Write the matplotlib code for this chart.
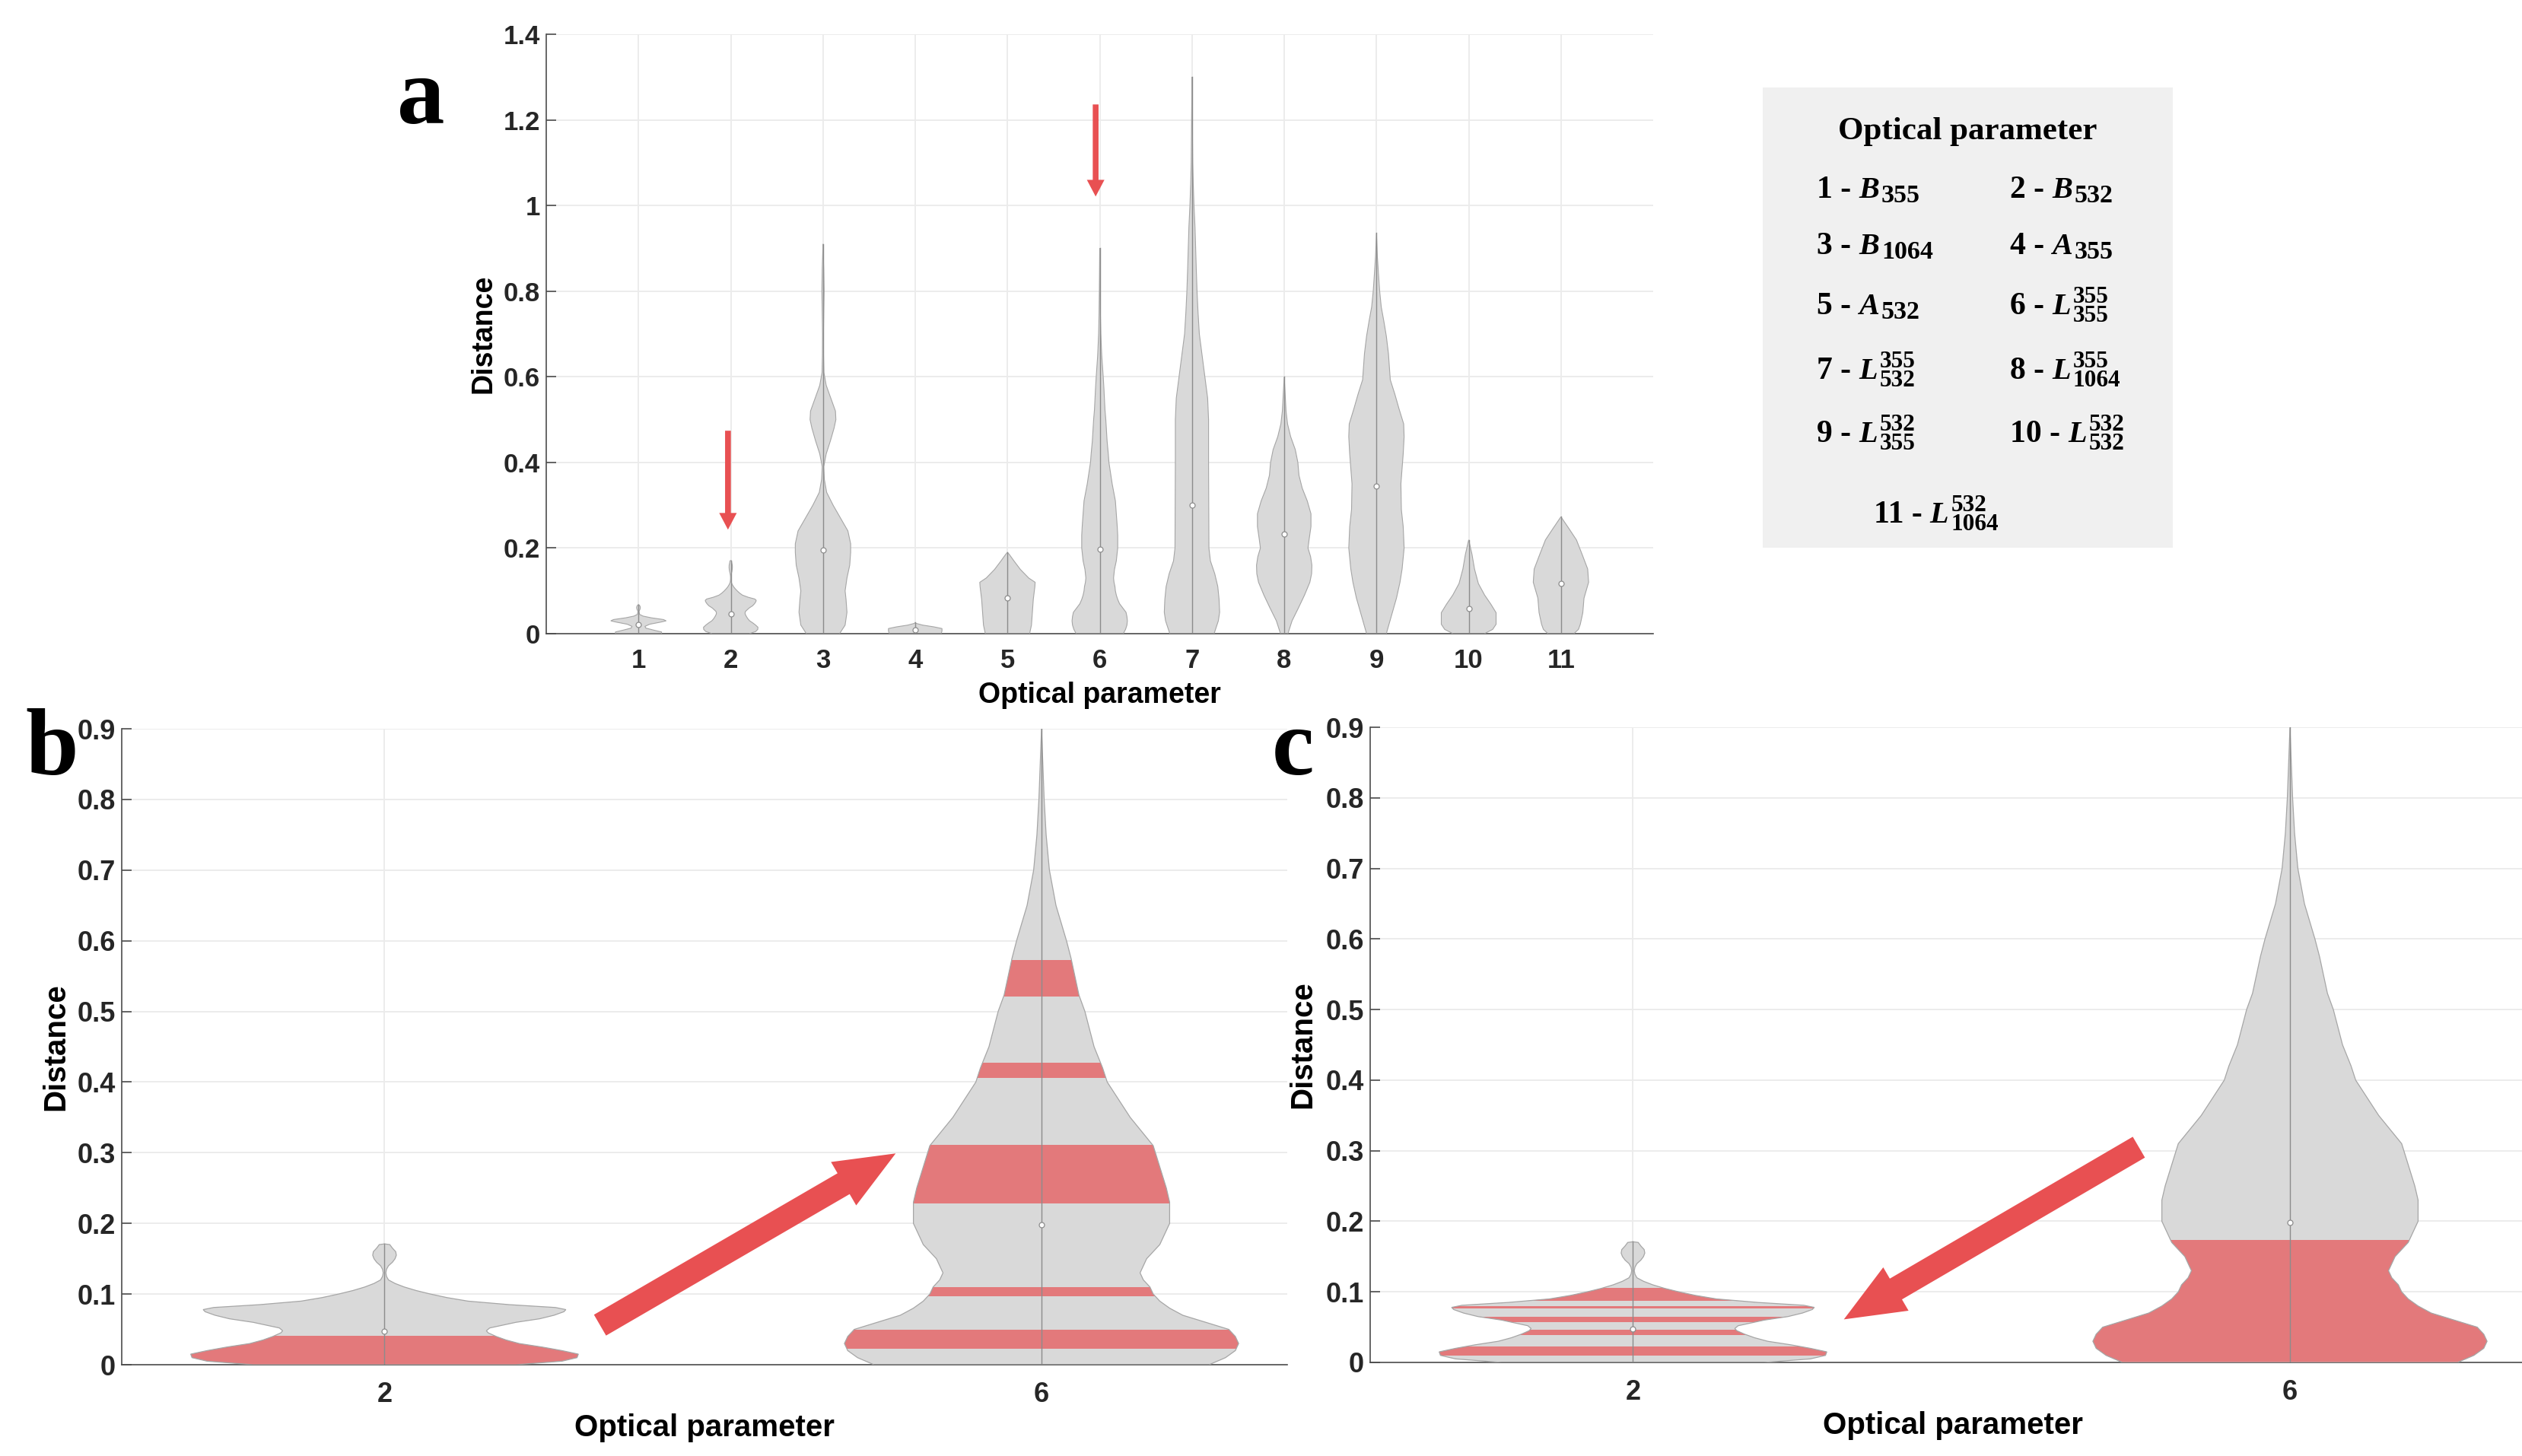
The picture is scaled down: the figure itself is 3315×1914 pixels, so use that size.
import numpy as np
import matplotlib
matplotlib.use("Agg")
import matplotlib.pyplot as plt
from matplotlib.patches import Polygon, Rectangle

plt.rcParams['font.family'] = ['Liberation Sans', 'DejaVu Sans']

# ---------------- data ----------------
categories = ['1', '2', '3', '4', '5', '6', '7', '8', '9', '10', '11']

# violin outlines: distance levels and half-widths (normalised, max 0.3)
v1_y = [0, 0.004, 0.008, 0.013, 0.017, 0.022, 0.027, 0.030, 0.033, 0.037, 0.041, 0.045, 0.052, 0.058, 0.062, 0.066, 0.068]
v1_w = [0.25, 0.25, 0.17, 0.08, 0.07, 0.12, 0.24, 0.30, 0.27, 0.14, 0.05, 0.012, 0.006, 0.018, 0.02, 0.012, 0]
v2_y = [0, 0.005, 0.010, 0.015, 0.020, 0.025, 0.030, 0.035, 0.040, 0.045, 0.048, 0.052, 0.056, 0.060, 0.065,
        0.070, 0.075, 0.078, 0.081, 0.085, 0.090, 0.095, 0.100, 0.105, 0.110, 0.115, 0.120, 0.125, 0.130,
        0.135, 0.140, 0.145, 0.150, 0.155, 0.160, 0.165, 0.170, 0.171]
v2_w = [0.20, 0.27, 0.293, 0.295, 0.27, 0.24, 0.205, 0.185, 0.17, 0.158, 0.155, 0.16, 0.18, 0.20, 0.236,
        0.258, 0.273, 0.276, 0.26, 0.19, 0.127, 0.095, 0.07, 0.048, 0.03, 0.016, 0.006, 0.003, 0.002,
        0.003, 0.006, 0.012, 0.016, 0.018, 0.017, 0.012, 0.008, 0]
v3_y = [0, 0.02, 0.05, 0.08, 0.10, 0.13, 0.16, 0.19, 0.21, 0.24, 0.27, 0.30, 0.33, 0.36, 0.39, 0.42, 0.45,
        0.48, 0.50, 0.52, 0.55, 0.58, 0.61, 0.65, 0.70, 0.75, 0.80, 0.85, 0.88, 0.91]
v3_w = [0.18, 0.24, 0.26, 0.25, 0.24, 0.26, 0.29, 0.30, 0.30, 0.27, 0.19, 0.11, 0.04, 0.015, 0.008, 0.035,
        0.08, 0.12, 0.14, 0.135, 0.085, 0.035, 0.01, 0.006, 0.005, 0.008, 0.012, 0.008, 0.004, 0]
v4_y = [0, 0.006, 0.012, 0.016, 0.020, 0.024, 0.026]
v4_w = [0.28, 0.29, 0.29, 0.20, 0.08, 0.01, 0]
v5_y = [0, 0.02, 0.05, 0.08, 0.11, 0.12, 0.13, 0.15, 0.17, 0.185, 0.19]
v5_w = [0.24, 0.26, 0.27, 0.28, 0.297, 0.30, 0.23, 0.14, 0.07, 0.02, 0]
v6_y = [0, 0.01, 0.02, 0.03, 0.04, 0.05, 0.06, 0.07, 0.08, 0.09, 0.10, 0.11, 0.12, 0.13, 0.15, 0.17, 0.20,
        0.23, 0.25, 0.28, 0.31, 0.35, 0.40, 0.42, 0.45, 0.50, 0.523, 0.575, 0.60, 0.65, 0.70, 0.75, 0.80,
        0.85, 0.90]
v6_w = [0.255, 0.28, 0.295, 0.30, 0.295, 0.285, 0.25, 0.215, 0.195, 0.18, 0.17, 0.165, 0.155, 0.15, 0.16,
        0.18, 0.195, 0.195, 0.19, 0.18, 0.17, 0.135, 0.10, 0.093, 0.08, 0.066, 0.057, 0.045, 0.038, 0.022,
        0.012, 0.007, 0.004, 0.002, 0]
v7_y = [0, 0.03, 0.05, 0.08, 0.11, 0.14, 0.17, 0.20, 0.30, 0.40, 0.50, 0.55, 0.60, 0.65, 0.70, 0.75, 0.80,
        0.85, 0.90, 0.95, 1.00, 1.05, 1.10, 1.20, 1.30]
v7_w = [0.24, 0.286, 0.30, 0.294, 0.28, 0.247, 0.20, 0.184, 0.182, 0.18, 0.18, 0.17, 0.14, 0.11, 0.08, 0.066,
        0.055, 0.047, 0.04, 0.033, 0.022, 0.014, 0.008, 0.004, 0]
v8_y = [0, 0.03, 0.06, 0.09, 0.12, 0.14, 0.16, 0.18, 0.20, 0.22, 0.25, 0.28, 0.31, 0.34, 0.37, 0.40, 0.43,
        0.46, 0.49, 0.52, 0.56, 0.60]
v8_w = [0.04, 0.085, 0.154, 0.22, 0.278, 0.297, 0.30, 0.286, 0.258, 0.27, 0.29, 0.29, 0.25, 0.195, 0.16,
        0.148, 0.12, 0.07, 0.036, 0.02, 0.01, 0]
v9_y = [0, 0.04, 0.083, 0.12, 0.151, 0.2, 0.25, 0.29, 0.35, 0.42, 0.46, 0.49, 0.525, 0.559, 0.593, 0.654,
        0.695, 0.73, 0.763, 0.80, 0.831, 0.88, 0.936]
v9_w = [0.107, 0.16, 0.217, 0.255, 0.278, 0.30, 0.29, 0.27, 0.265, 0.29, 0.30, 0.295, 0.245, 0.20, 0.15,
        0.13, 0.107, 0.08, 0.052, 0.035, 0.025, 0.01, 0]
v10_y = [0, 0.01, 0.022, 0.049, 0.069, 0.09, 0.117, 0.151, 0.185, 0.219]
v10_w = [0.17, 0.26, 0.297, 0.297, 0.24, 0.173, 0.105, 0.063, 0.036, 0]
v11_y = [0, 0.01, 0.022, 0.049, 0.083, 0.12, 0.151, 0.185, 0.219, 0.246, 0.273]
v11_w = [0.14, 0.19, 0.21, 0.237, 0.25, 0.30, 0.29, 0.23, 0.168, 0.085, 0]

medians = [0.021, 0.047, 0.195, 0.008, 0.083, 0.198, 0.30, 0.232, 0.344, 0.058, 0.118]

# highlighted (red) distance ranges
b_bands_2 = [(0.0, 0.041)]
b_bands_6 = [(0.023, 0.050), (0.097, 0.110), (0.228, 0.311), (0.406, 0.427), (0.521, 0.573)]
c_bands_2 = [(0.010, 0.023), (0.039, 0.046), (0.057, 0.065), (0.076, 0.0795), (0.087, 0.106)]
c_bands_6 = [(0.0, 0.173)]

legend_title = 'Optical parameter'
legend_nums = ['1', '2', '3', '4', '5', '6', '7', '8', '9', '10', '11']
legend_syms = ['B', 'B', 'B', 'A', 'A', 'L', 'L', 'L', 'L', 'L', 'L']
legend_sups = [None, None, None, None, None, '355', '355', '355', '532', '532', '532']
legend_subs = ['355', '532', '1064', '355', '532', '355', '532', '1064', '355', '532', '1064']

profiles = [(v1_y, v1_w), (v2_y, v2_w), (v3_y, v3_w), (v4_y, v4_w), (v5_y, v5_w), (v6_y, v6_w),
            (v7_y, v7_w), (v8_y, v8_w), (v9_y, v9_w), (v10_y, v10_w), (v11_y, v11_w)]

# ---------------- style ----------------
GRAY = '#d9d9d9'
EDGE = '#a6a6a6'
RED = '#e3797b'
ARROW = '#e85052'
GRID = '#ebebeb'
SPINE = '#4d4d4d'

W, H = 3315, 1914
fig = plt.figure(figsize=(W / 100, H / 100), dpi=100)
renderer = fig.canvas.get_renderer()


def px_axes(x0, y0, x1, y1):
    return fig.add_axes([x0 / W, 1 - y1 / H, (x1 - x0) / W, (y1 - y0) / H])


def style_axes(ax, tick_fs, label_fs, xlabel_y, ylabel_x, xpad):
    for s in ['top', 'right']:
        ax.spines[s].set_visible(False)
    for s in ['left', 'bottom']:
        ax.spines[s].set_color(SPINE)
        ax.spines[s].set_linewidth(1.2)
    ax.grid(True, color=GRID, linewidth=1.3)
    ax.set_axisbelow(True)
    ax.tick_params(axis='y', direction='in', length=9, width=1.2, color=SPINE, pad=6,
                   labelsize=tick_fs, labelcolor='#262626')
    ax.tick_params(axis='x', length=0, pad=xpad, labelsize=tick_fs, labelcolor='#262626')
    for lab in ax.get_xticklabels() + ax.get_yticklabels():
        lab.set_fontweight('bold')
    ax.set_xlabel('Optical parameter', fontsize=label_fs, fontweight='bold', va='center')
    ax.set_ylabel('Distance', fontsize=label_fs, fontweight='bold', va='center')
    ax.xaxis.set_label_coords(0.5, xlabel_y)
    ax.yaxis.set_label_coords(ylabel_x, 0.5)


def draw_violin(ax, pos, prof, med, bands=None, lw=0.9):
    y = np.asarray(prof[0])
    w = np.asarray(prof[1])
    xs = np.concatenate([pos - w, (pos + w)[::-1]])
    ys = np.concatenate([y, y[::-1]])
    poly = Polygon(np.column_stack([xs, ys]), closed=True, facecolor=GRAY, edgecolor='none', zorder=2)
    ax.add_patch(poly)
    if bands:
        for lo, hi in bands:
            r = Rectangle((pos - 0.4, lo), 0.8, hi - lo, facecolor=RED, edgecolor='none', zorder=3)
            ax.add_patch(r)
            r.set_clip_path(poly)
    ax.add_patch(Polygon(np.column_stack([xs, ys]), closed=True, facecolor='none',
                         edgecolor=EDGE, linewidth=lw, zorder=4))
    ax.plot([pos, pos], [y[0], y[-1]], color='#8c8c8c', linewidth=1.0, zorder=5)
    ax.plot([pos], [med], marker='o', markersize=5, markerfacecolor='white',
            markeredgecolor='#8c8c8c', markeredgewidth=0.9, zorder=6)


def arrow(ax, tail, tip, ms, hl, hw, tw):
    ax.annotate('', xy=tip, xytext=tail,
                arrowprops=dict(arrowstyle=f'simple,head_length={hl},head_width={hw},tail_width={tw}',
                                mutation_scale=ms, color=ARROW, shrinkA=0, shrinkB=0, lw=0),
                zorder=7)


# ---------------- panel a ----------------
axa = px_axes(718, 45, 2173, 833)
positions = np.arange(1, len(categories) + 1)
for p, prof, m in zip(positions, profiles, medians):
    draw_violin(axa, p, prof, m, lw=0.8)
axa.set_xlim(0, 12)
axa.set_ylim(0, 1.4)
axa.set_xticks(positions)
axa.set_xticklabels(categories)
axa.set_yticks(np.arange(0, 1.41, 0.2))
axa.set_yticklabels(['0', '0.2', '0.4', '0.6', '0.8', '1', '1.2', '1.4'])
style_axes(axa, 25, 27, -0.103, -0.057, 14)
arrow(axa, (1.97, 0.474), (1.97, 0.243), 16.6, 0.95, 1.0, 0.33)
arrow(axa, (5.956, 1.236), (5.956, 1.021), 16.6, 0.95, 1.0, 0.33)

# ---------------- panel b ----------------
yt = np.round(np.arange(0, 0.91, 0.1), 1)
ytl = ['0'] + [f'{v:g}' for v in yt[1:]]
axb = px_axes(160, 958, 1692, 1794)
draw_violin(axb, 1, profiles[1], medians[1], b_bands_2)
draw_violin(axb, 2, profiles[5], medians[5], b_bands_6)
axb.set_xlim(0.6, 2.374)
axb.set_ylim(0, 0.9)
axb.set_xticks([1, 2])
axb.set_xticklabels([categories[1], categories[5]])
axb.set_yticks(yt)
axb.set_yticklabels(ytl)
style_axes(axb, 26, 29, -0.099, -0.0565, 16)
arrow(axb, (1.328, 0.056), (1.778, 0.299), 47.5, 1.2, 1.0, 0.48)

# ---------------- panel c ----------------
axc = px_axes(1801, 956, 3333, 1791)
draw_violin(axc, 1, profiles[1], medians[1], c_bands_2)
draw_violin(axc, 2, profiles[5], medians[5], c_bands_6)
axc.set_xlim(0.6, 2.374)
axc.set_ylim(0, 0.9)
axc.set_xticks([1, 2])
axc.set_xticklabels([categories[1], categories[5]])
axc.set_yticks(yt)
axc.set_yticklabels(ytl)
style_axes(axc, 26, 29, -0.099, -0.058, 16)
arrow(axc, (1.770, 0.305), (1.321, 0.061), 47.5, 1.2, 1.0, 0.48)

# ---------------- panel letters ----------------
serif = ['Liberation Serif', 'DejaVu Serif']
for letter, x, y in [('a', 522, 162), ('b', 33, 1018), ('c', 1672, 1018)]:
    fig.text(x / W, 1 - y / H, letter, family=serif, fontweight='bold', fontsize=90,
             ha='left', va='baseline')

# ---------------- legend box ----------------
fig.patches.append(Rectangle((2317 / W, 1 - 720 / H), 539 / W, 605 / H, transform=fig.transFigure,
                             facecolor='#f0f0f0', edgecolor='none', zorder=0))
fig.text(2586 / W, 1 - 183 / H, legend_title, family=serif, fontweight='bold', fontsize=31,
         ha='center', va='baseline')


def put(x, y, s, size, style='normal'):
    t = fig.text(x / W, 1 - y / H, s, family=serif, fontweight='bold', fontstyle=style,
                 fontsize=size, ha='left', va='baseline')
    bb = t.get_window_extent(renderer)
    return bb.x1


def legend_entry(x, y, num, sym, sup, sub):
    x = put(x, y, num + ' -', 30) + 10
    x = put(x, y, sym, 29, 'italic') + 3
    if sup is None:
        put(x, y + 6, sub, 24.5)
    else:
        put(x, y - 15, sup, 22.5)
        put(x, y + 10, sub, 22.5)


rows_y = [260, 334, 413, 498, 581]
for i in range(10):
    col = i % 2
    row = i // 2
    x = 2388 if col == 0 else 2642
    legend_entry(x, rows_y[row], legend_nums[i], legend_syms[i], legend_sups[i], legend_subs[i])
legend_entry(2463, 687, legend_nums[10], legend_syms[10], legend_sups[10], legend_subs[10])

fig.savefig('out.png', dpi=100)
